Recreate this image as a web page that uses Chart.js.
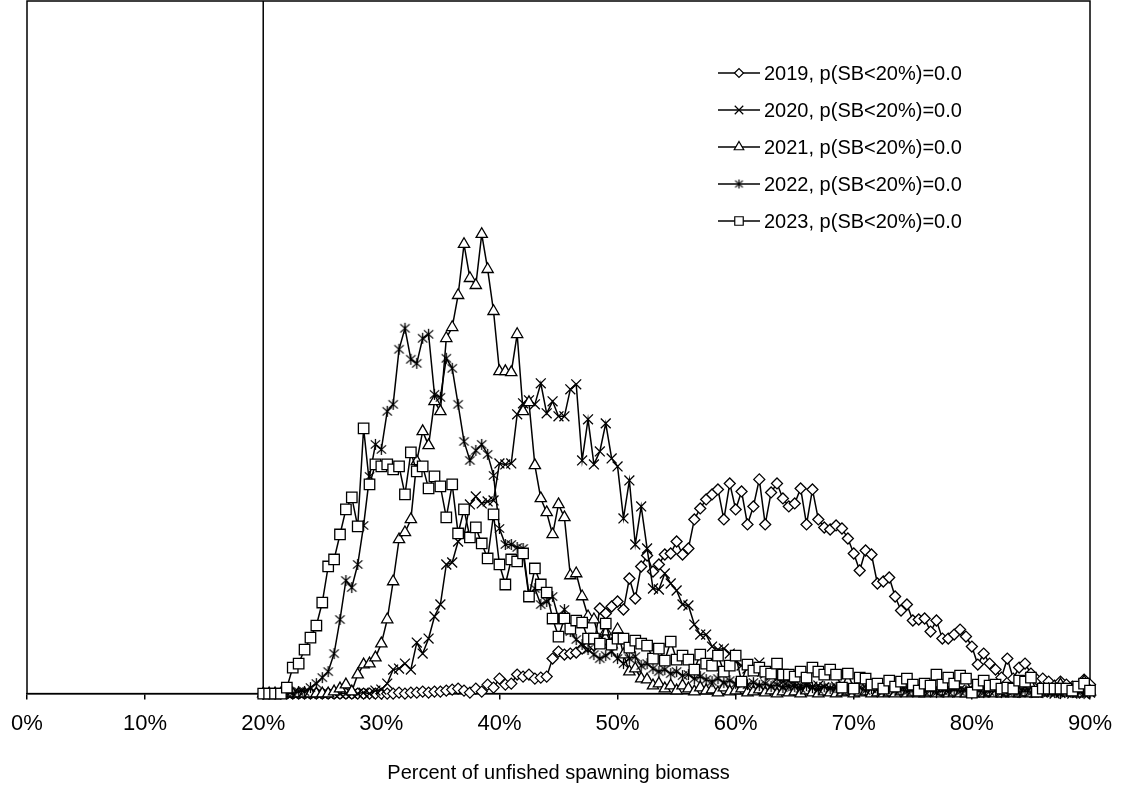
<!DOCTYPE html>
<html>
<head>
<meta charset="utf-8">
<script src="https://cdn.jsdelivr.net/npm/chart.js@4.4.1/dist/chart.umd.min.js"></script>
<style>
html,body{margin:0;padding:0;background:#fff;}
#wrap{position:relative;width:1121px;height:794px;}
</style>
</head>
<body>
<div id="wrap"><canvas id="c"></canvas></div>
<script>
// ---- data (bin = percent of unfished spawning biomass, values = relative frequency) ----
const binPct = [
  20,20.5,21,21.5,22,22.5,23,23.5,24,24.5,
  25,25.5,26,26.5,27,27.5,28,28.5,29,29.5,
  30,30.5,31,31.5,32,32.5,33,33.5,34,34.5,
  35,35.5,36,36.5,37,37.5,38,38.5,39,39.5,
  40,40.5,41,41.5,42,42.5,43,43.5,44,44.5,
  45,45.5,46,46.5,47,47.5,48,48.5,49,49.5,
  50,50.5,51,51.5,52,52.5,53,53.5,54,54.5,
  55,55.5,56,56.5,57,57.5,58,58.5,59,59.5,
  60,60.5,61,61.5,62,62.5,63,63.5,64,64.5,
  65,65.5,66,66.5,67,67.5,68,68.5,69,69.5,
  70,70.5,71,71.5,72,72.5,73,73.5,74,74.5,
  75,75.5,76,76.5,77,77.5,78,78.5,79,79.5,
  80,80.5,81,81.5,82,82.5,83,83.5,84,84.5,
  85,85.5,86,86.5,87,87.5,88,88.5,89,89.5,
  90
];
const freq2019 = [
  0,0,0,0,0,0,0,0,0,0,
  0,0,0,0,0,0,0,0,0,0,
  0,0,0,1,0,1,1,2,1,2,
  2,3,4,5,3,1,5,2,9,6,
  15,9,10,19,17,19,15,16,17,35,
  42,39,40,41,45,47,48,85,80,87,
  92,84,115,95,127,138,122,129,139,140,
  152,139,145,174,185,194,199,204,174,210,
  184,202,169,187,214,169,201,210,195,187,
  190,205,169,204,174,166,164,168,165,155,
  140,123,143,139,110,112,116,97,83,89,
  73,74,75,62,73,55,55,59,64,57,
  47,29,40,30,24,16,35,15,26,30,
  20,14,15,12,8,12,9,7,6,14,
  9
];
const freq2020 = [
  0,0,0,0,0,0,0,0,0,0,
  0,0,0,0,0,0,0,1,0,3,
  4,10,24,25,30,24,51,40,55,77,
  89,129,131,152,158,189,197,190,192,193,
  230,229,230,279,290,293,289,310,280,292,
  277,277,304,309,233,274,229,242,270,235,
  227,175,213,149,187,145,105,104,120,110,
  103,89,88,69,59,59,47,44,45,40,
  32,28,25,22,31,20,18,15,12,13,
  10,8,9,7,8,6,5,7,4,6,
  5,3,6,4,2,5,3,4,2,3,
  4,2,3,5,2,3,1,2,4,2,
  2,3,1,2,3,1,2,1,2,1,
  2,1,1,2,0,1,1,0,1,0,
  1
];
const freq2021 = [
  0,0,0,0,0,0,0,0,0,0,
  0,0,2,5,9,2,19,29,30,36,
  50,74,112,154,161,174,232,262,248,292,
  282,355,366,398,449,415,408,459,424,382,
  322,322,321,359,282,291,228,195,181,159,
  189,176,118,120,97,77,74,52,62,49,
  64,39,22,25,15,14,8,10,5,8,
  3,8,5,2,6,3,4,1,6,2,
  3,5,1,2,4,1,3,0,2,1,
  2,0,3,1,0,2,1,0,1,2,
  0,1,2,0,1,0,1,0,2,0,
  1,0,0,1,0,2,0,1,0,0,
  1,0,0,1,0,0,1,0,0,1,
  0,0,1,4,2,9,1,3,0,12,
  2
];
const freq2022 = [
  0,0,0,0,0,0,2,2,6,10,
  16,22,40,74,113,106,129,168,217,249,
  244,282,289,344,365,334,330,355,359,299,
  296,335,325,289,252,233,243,249,239,218,
  165,149,149,146,145,99,105,89,92,97,
  75,84,62,54,49,44,39,35,38,42,
  35,30,35,37,28,30,25,22,24,20,
  22,18,19,15,17,14,12,15,11,13,
  10,12,9,11,8,10,7,9,6,8,
  7,5,8,6,4,7,5,6,3,5,
  4,6,3,5,4,2,5,3,4,2,
  3,4,2,3,1,3,2,4,2,3,
  2,3,1,2,3,1,2,2,1,3,
  1,2,1,2,1,0,2,1,1,0,
  1
];
const freq2023 = [
  0,0,0,0,6,26,30,44,56,68,
  91,127,134,159,184,196,167,265,209,229,
  227,229,224,227,199,241,222,227,205,217,
  207,176,209,160,184,156,166,150,135,179,
  129,109,134,132,140,97,125,109,101,75,
  57,75,65,73,71,55,55,50,70,49,
  55,55,46,53,50,48,35,45,33,52,
  34,38,34,24,39,30,28,38,22,28,
  38,12,29,23,26,22,20,30,19,19,
  17,22,16,26,22,19,24,19,6,20,
  5,16,15,9,10,5,13,7,12,15,
  9,3,10,8,19,9,16,10,18,15,
  1,9,13,8,9,5,6,5,13,12,
  16,2,5,5,5,5,5,3,7,10,
  3
];
const seriesNames = [
  '2019, p(SB<20%)=0.0',
  '2020, p(SB<20%)=0.0',
  '2021, p(SB<20%)=0.0',
  '2022, p(SB<20%)=0.0',
  '2023, p(SB<20%)=0.0'
];
const xTickValues = [0,10,20,30,40,50,60,70,80,90];
const refLinePct = 20;
const axisTitle = 'Percent of unfished spawning biomass';
const yTop = 692;

// ---- styling ----
const FONT = "'Liberation Sans', Arial, Helvetica, sans-serif";

function asteriskCanvas(size, lw){
  const c = document.createElement('canvas');
  c.width = size; c.height = size;
  const g = c.getContext('2d');
  g.strokeStyle = '#000'; g.lineWidth = lw;
  const m = size/2, r = size/2 - 1;
  g.beginPath();
  g.moveTo(m - r*0.85, m - r*0.75); g.lineTo(m + r*0.85, m + r*0.75);
  g.moveTo(m + r*0.85, m - r*0.75); g.lineTo(m - r*0.85, m + r*0.75);
  g.moveTo(m, m - r); g.lineTo(m, m + r);
  g.stroke();
  return c;
}
const starImg = asteriskCanvas(13, 1.3);
const starImgSmall = asteriskCanvas(11, 1.2);

const styles = [
  {pointStyle:'rectRot', radius:5.5, legendRadius:4.5},
  {pointStyle:'crossRot', radius:7, legendRadius:6},
  {pointStyle:'triangle', radius:6.5, legendRadius:5.5},
  {pointStyle:starImg, radius:6, legendStyle:starImgSmall, legendRadius:5},
  {pointStyle:'rect', radius:7.4, legendRadius:6}
];
const seriesValues = [freq2019, freq2020, freq2021, freq2022, freq2023];

const datasets = seriesValues.map((vals, k) => ({
  label: seriesNames[k],
  data: binPct.map((p, i) => ({x: p, y: vals[i]})),
  borderColor: '#000',
  borderWidth: 1.5,
  backgroundColor: '#fff',
  pointBackgroundColor: '#fff',
  pointBorderColor: '#000',
  pointBorderWidth: 1.3,
  pointStyle: styles[k].pointStyle,
  pointRadius: styles[k].radius,
  pointHoverRadius: styles[k].radius,
  tension: 0,
  fill: false,
  clip: false,
  order: 5 - k
}));

const framePlugin = {
  id: 'frame',
  beforeDatasetsDraw(chart){
    const {ctx, chartArea:a, scales:{x}} = chart;
    ctx.save();
    ctx.strokeStyle = '#000';
    ctx.lineWidth = 1.5;
    ctx.strokeRect(a.left, a.top, a.right - a.left, a.bottom - a.top);
    const xp = x.getPixelForValue(refLinePct);
    ctx.beginPath();
    ctx.moveTo(xp, a.top);
    ctx.lineTo(xp, a.bottom);
    ctx.stroke();
    ctx.restore();
  },
  afterDraw(chart){
    const ctx = chart.ctx;
    const x0 = 718, x1 = 760, xm = 739, tx = 764;
    const rows = [73, 110, 147, 184, 221];
    ctx.save();
    ctx.font = '20px ' + FONT;
    ctx.fillStyle = '#000';
    ctx.textBaseline = 'middle';
    ctx.textAlign = 'left';
    seriesNames.forEach((name, k) => {
      const y = rows[k];
      ctx.strokeStyle = '#000';
      ctx.lineWidth = 1.5;
      ctx.beginPath(); ctx.moveTo(x0, y); ctx.lineTo(x1, y); ctx.stroke();
      ctx.fillStyle = '#fff';
      ctx.lineWidth = 1.2;
      const st = styles[k];
      Chart.helpers.drawPoint(ctx, {pointStyle: st.legendStyle || st.pointStyle, radius: st.legendRadius, borderWidth: 1.2, rotation: 0}, xm, y);
      ctx.fillStyle = '#000';
      ctx.fillText(name, tx, y + 1);
    });
    ctx.restore();
  }
};

new Chart(document.getElementById('c'), {
  type: 'line',
  data: {datasets},
  options: {
    responsive: true,
    maintainAspectRatio: false,
    animation: false,
    events: [],
    layout: {autoPadding: false, padding: {left: 27, right: 31, top: 1, bottom: 3}},
    plugins: {legend: {display: false}, tooltip: {enabled: false}},
    scales: {
      x: {
        type: 'linear', min: 0, max: 90,
        afterBuildTicks: (s) => { s.ticks = xTickValues.map(v => ({value: v})); },
        afterFit: (s) => { s.paddingLeft = 0; s.paddingRight = 0; },
        ticks: {
          callback: (v) => v + '%',
          color: '#000',
          font: {family: FONT, size: 22},
          padding: 11,
          maxRotation: 0,
          autoSkip: false
        },
        grid: {display: true, drawOnChartArea: false, drawTicks: true, tickLength: 6, color: '#000', lineWidth: 1.5},
        border: {display: true, color: '#000', width: 1.5},
        title: {display: true, text: axisTitle, color: '#000', font: {family: FONT, size: 20}, padding: {top: 13, bottom: 6}}
      },
      y: {display: false, min: 0, max: yTop}
    }
  },
  plugins: [framePlugin]
});
</script>
</body>
</html>
